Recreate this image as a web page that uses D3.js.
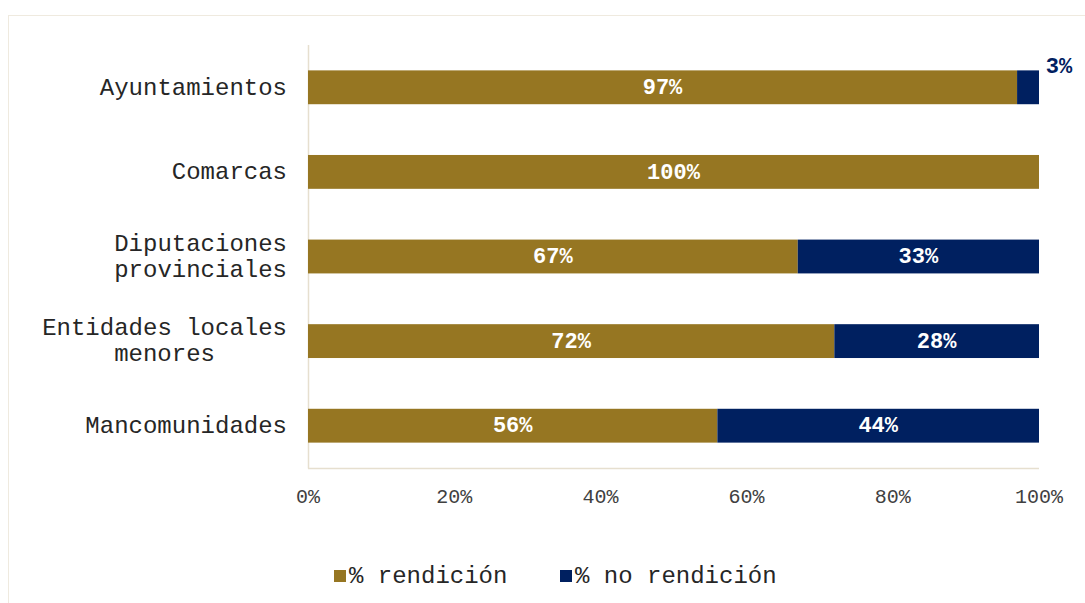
<!DOCTYPE html>
<html>
<head>
<meta charset="utf-8">
<script src="https://cdn.jsdelivr.net/npm/d3@7"></script>
<style>
  body { margin: 0; background: #fff; }
  text { font-family: "Liberation Mono", "Courier New", monospace; }
</style>
</head>
<body>
<div id="chart"></div>
<script>
// Data
const categories = [
  ["Ayuntamientos"],
  ["Comarcas"],
  ["Diputaciones", "provinciales"],
  ["Entidades locales", "menores"],
  ["Mancomunidades"]
];
const rendicion = [97, 100, 67, 72, 56];
const noRendicion = [3, 0, 33, 28, 44];
const seriesNames = ["% rendición", "% no rendición"];
const ticks = [0, 20, 40, 60, 80, 100];

const W = 1085, H = 603;
const GOLD = "#967622", NAVY = "#002060", GRID = "#e6dfcf";

const svg = d3.select("#chart").append("svg")
  .attr("width", W).attr("height", H);

// chart frame
svg.append("rect")
  .attr("x", 8.5).attr("y", 15.5)
  .attr("width", 1100).attr("height", 620)
  .attr("fill", "none").attr("stroke", "#efeadf");

const x = d3.scaleLinear().domain([0, 100]).range([308, 1039]);
const y = d3.scaleBand()
  .domain(d3.range(categories.length))
  .range([45, 468])
  .paddingInner(0.6).paddingOuter(0.3);

// axes lines
svg.append("line")
  .attr("x1", 308.5).attr("x2", 308.5).attr("y1", 45).attr("y2", 468.5)
  .attr("stroke", GRID).attr("stroke-width", 1.5);
svg.append("line")
  .attr("x1", 308).attr("x2", 1039).attr("y1", 468.5).attr("y2", 468.5)
  .attr("stroke", GRID).attr("stroke-width", 1.5);

// tick labels
svg.selectAll(".tick").data(ticks).enter().append("text")
  .attr("class", "tick")
  .attr("x", d => x(d)).attr("y", 503)
  .attr("text-anchor", "middle")
  .attr("font-size", 20).attr("fill", "#404040")
  .text(d => d + "%");

// category labels
categories.forEach((lines, i) => {
  const cy = y(i) + y.bandwidth() / 2;
  const g = svg.append("g");
  const t = g.selectAll("text").data(lines).enter().append("text")
    .attr("font-size", 24).attr("fill", "#262626")
    .attr("text-anchor", "middle")
    .attr("y", (d, j) => cy + (j - (lines.length - 1) / 2) * 26)
    .attr("dy", "0.3em")
    .text(d => d);
  const wMax = d3.max(t.nodes(), n => n.getComputedTextLength());
  t.attr("x", 287 - wMax / 2);
});

// bars
const rows = categories.map((c, i) => ({ i, a: rendicion[i], b: noRendicion[i] }));

svg.selectAll(".bar-a").data(rows).enter().append("rect")
  .attr("x", x(0)).attr("y", d => y(d.i))
  .attr("width", d => x(d.a) - x(0)).attr("height", y.bandwidth())
  .attr("fill", GOLD);

svg.selectAll(".bar-b").data(rows.filter(d => d.b > 0)).enter().append("rect")
  .attr("x", d => x(d.a)).attr("y", d => y(d.i))
  .attr("width", d => x(d.a + d.b) - x(d.a)).attr("height", y.bandwidth())
  .attr("fill", NAVY);

// value labels
svg.selectAll(".lab-a").data(rows).enter().append("text")
  .attr("x", d => x(d.a / 2)).attr("y", d => y(d.i) + y.bandwidth() / 2)
  .attr("dy", "0.3em").attr("text-anchor", "middle")
  .attr("font-size", 22).attr("font-weight", "bold").attr("fill", "#fff")
  .text(d => d.a + "%");

svg.selectAll(".lab-b").data(rows.filter(d => d.b > 0)).enter().append("text")
  .attr("x", d => d.b < 10 ? x(100) + 20 : x(d.a + d.b / 2))
  .attr("y", d => d.b < 10 ? y(d.i) - 4 : y(d.i) + y.bandwidth() / 2)
  .attr("dy", "0.3em").attr("text-anchor", "middle")
  .attr("font-size", 22).attr("font-weight", "bold")
  .attr("fill", d => d.b < 10 ? NAVY : "#fff")
  .text(d => d.b + "%");

// legend
const legX = [334, 560];
const leg = svg.selectAll(".leg").data(seriesNames).enter().append("g")
  .attr("transform", (d, i) => `translate(${legX[i]},576)`);
leg.append("rect")
  .attr("x", 0).attr("y", -6).attr("width", 12).attr("height", 12)
  .attr("fill", (d, i) => i === 0 ? GOLD : NAVY);
leg.append("text")
  .attr("x", 15).attr("dy", "0.3em")
  .attr("font-size", 24).attr("fill", "#262626")
  .text(d => d);
</script>
</body>
</html>
